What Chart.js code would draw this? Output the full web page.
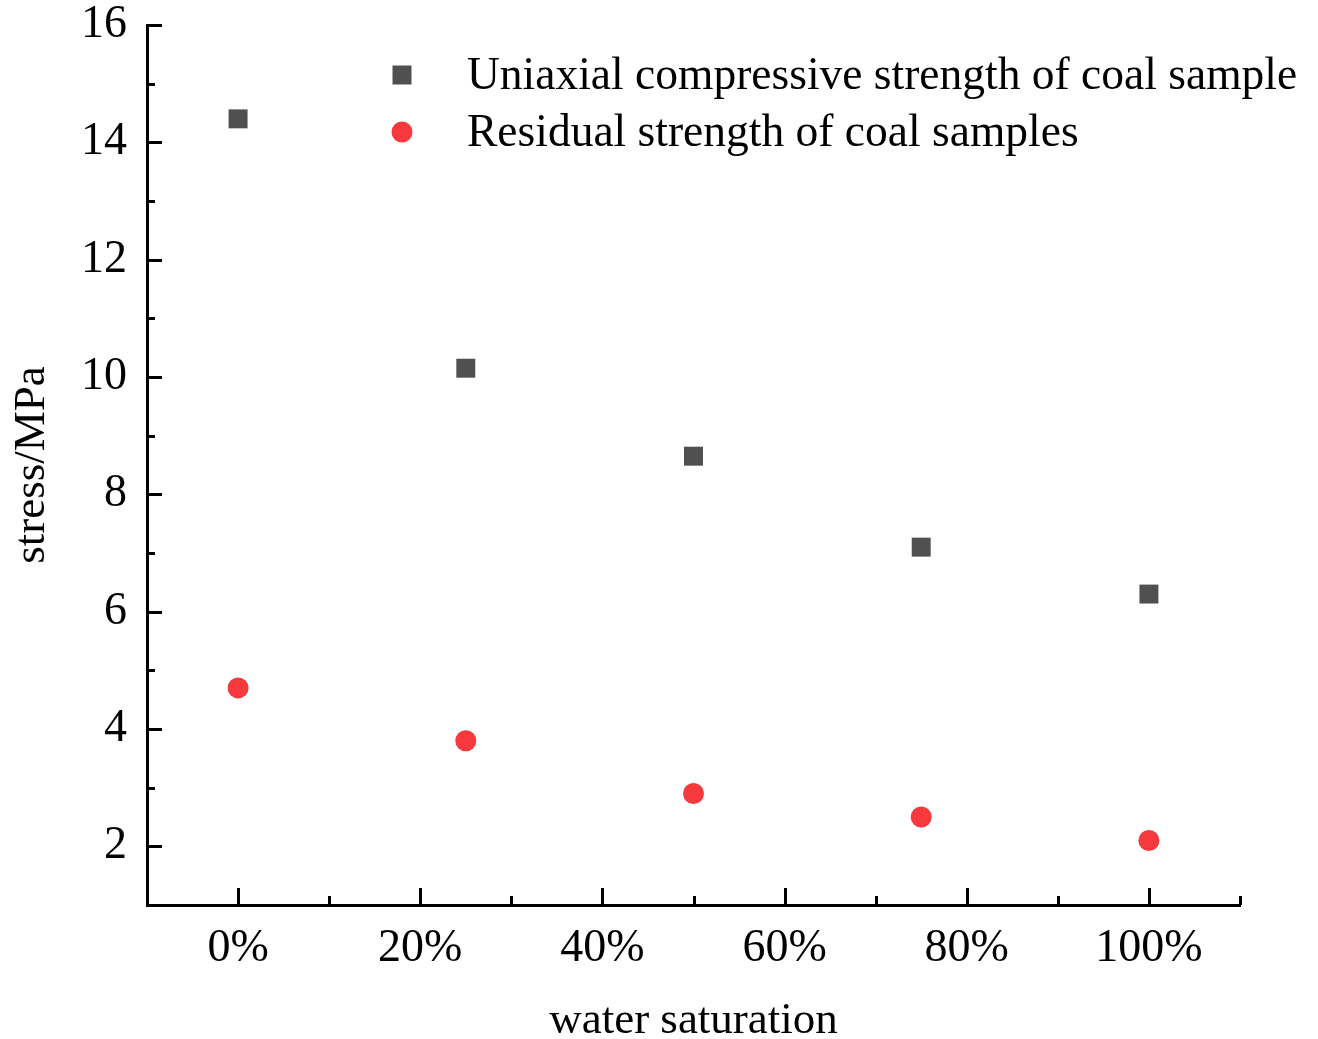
<!DOCTYPE html>
<html lang="en">
<head>
<meta charset="UTF-8">
<title>Coal strength vs water saturation</title>
<style>
  html, body { margin: 0; padding: 0; background: #fff; }
  #wrap { width: 1318px; height: 1039px; position: relative; }
</style>
</head>
<body>
<div id="wrap"><canvas id="strengthChart"></canvas></div>
<script src="https://cdn.jsdelivr.net/npm/chart.js"></script>
<script>
// water saturation (%) of each sample group
const saturation = [0, 25, 50, 75, 100];
// stress values, MPa
const ucs = [14.4, 10.15, 8.65, 7.1, 6.3];
const residual = [4.7, 3.8, 2.9, 2.5, 2.1];
const seriesNames = ['Uniaxial compressive strength of coal sample', 'Residual strength of coal samples'];

// axis ticks
const xTicks = [0, 20, 40, 60, 80, 100];
const xMinorTicks = [-10, 10, 30, 50, 70, 90, 110];
const yTicks = [2, 4, 6, 8, 10, 12, 14, 16];
const yMinorTicks = [1, 3, 5, 7, 9, 11, 13, 15];

const FONT = "'Liberation Serif', 'Times New Roman', serif";
const GREY = '#505050';
const RED = '#f5393c';

// ticks point into the plot area, so they are drawn here instead of by the scales
const inwardTicks = {
    id: 'inwardTicks',
    afterDatasetsDraw(chart) {
        const ctx = chart.ctx;
        const xs = chart.scales.x, ys = chart.scales.y;
        const area = chart.chartArea;
        ctx.save();
        ctx.strokeStyle = '#000';
        ctx.lineWidth = 3;
        ctx.beginPath();
        xTicks.forEach(v => {
            const px = Math.round(xs.getPixelForValue(v)) + 0.5;
            ctx.moveTo(px, area.bottom); ctx.lineTo(px, area.bottom - 17);
        });
        xMinorTicks.forEach(v => {
            const px = Math.round(xs.getPixelForValue(v)) + 0.5;
            ctx.moveTo(px, area.bottom); ctx.lineTo(px, area.bottom - 9);
        });
        yTicks.forEach(v => {
            const py = Math.round(ys.getPixelForValue(v)) + 0.5;
            ctx.moveTo(area.left, py); ctx.lineTo(area.left + 15, py);
        });
        yMinorTicks.forEach(v => {
            const py = Math.round(ys.getPixelForValue(v)) + 0.5;
            ctx.moveTo(area.left, py); ctx.lineTo(area.left + 8, py);
        });
        ctx.stroke();
        ctx.restore();
    }
};

// legend sits inside the plot, upper right
const insideLegend = {
    id: 'insideLegend',
    afterDraw(chart) {
        const ctx = chart.ctx;
        const area = chart.chartArea;
        const mx = area.left + 255, tx = area.left + 320;
        const rows = [area.top + 50, area.top + 107];
        ctx.save();
        ctx.font = '45.5px ' + FONT;
        ctx.textBaseline = 'middle';
        ctx.fillStyle = '#000';
        chart.data.datasets.forEach((ds, i) => {
            const y = rows[i];
            ctx.fillStyle = ds.backgroundColor;
            ctx.beginPath();
            if (ds.pointStyle === 'rect') {
                ctx.rect(mx - 9.5, y - 9.5, 19, 19);
            } else {
                ctx.arc(mx, y, 10.5, 0, Math.PI * 2);
            }
            ctx.fill();
            ctx.fillStyle = '#000';
            ctx.fillText(ds.label, tx, y + 2);
        });
        ctx.restore();
    }
};

const toPoints = ys => saturation.map((x, i) => ({ x: x, y: ys[i] }));

new Chart(document.getElementById('strengthChart'), {
    type: 'scatter',
    data: {
        datasets: [
            {
                label: seriesNames[0],
                data: toPoints(ucs),
                pointStyle: 'rect',
                pointRadius: 13.4,
                backgroundColor: GREY,
                borderColor: GREY,
                borderWidth: 0
            },
            {
                label: seriesNames[1],
                data: toPoints(residual),
                pointStyle: 'circle',
                pointRadius: 10.5,
                backgroundColor: RED,
                borderColor: RED,
                borderWidth: 0
            }
        ]
    },
    options: {
        responsive: true,
        maintainAspectRatio: false,
        animation: false,
        events: [],
        layout: { padding: { top: 25, right: 78, left: 0, bottom: 0 } },
        plugins: {
            legend: { display: false },
            tooltip: { enabled: false }
        },
        scales: {
            x: {
                type: 'linear',
                min: -10,
                max: 110,
                afterBuildTicks: s => { s.ticks = xTicks.map(v => ({ value: v })); },
                afterFit: s => { s.height = 134; s.paddingLeft = 0; s.paddingRight = 0; },
                grid: { display: false },
                border: { display: true, color: '#000', width: 3 },
                ticks: {
                    color: '#000',
                    font: { family: FONT, size: 46 },
                    padding: 8,
                    maxRotation: 0,
                    callback: v => v + '%'
                },
                title: {
                    display: true,
                    text: 'water saturation',
                    color: '#000',
                    font: { family: FONT, size: 45, lineHeight: 0.8 },
                    padding: { top: 0, bottom: 0 }
                }
            },
            y: {
                type: 'linear',
                min: 1,
                max: 16,
                afterBuildTicks: s => { s.ticks = yTicks.map(v => ({ value: v })); },
                afterFit: s => { s.width = 147; s.paddingTop = 0; s.paddingBottom = 0; },
                grid: { display: false },
                border: { display: true, color: '#000', width: 3 },
                ticks: {
                    color: '#000',
                    font: { family: FONT, size: 46 },
                    padding: 12
                },
                title: {
                    display: true,
                    text: 'stress/MPa',
                    color: '#000',
                    font: { family: FONT, size: 45, lineHeight: 1 },
                    padding: { top: 10, bottom: 0 }
                }
            }
        }
    },
    plugins: [inwardTicks, insideLegend]
});
</script>
</body>
</html>
